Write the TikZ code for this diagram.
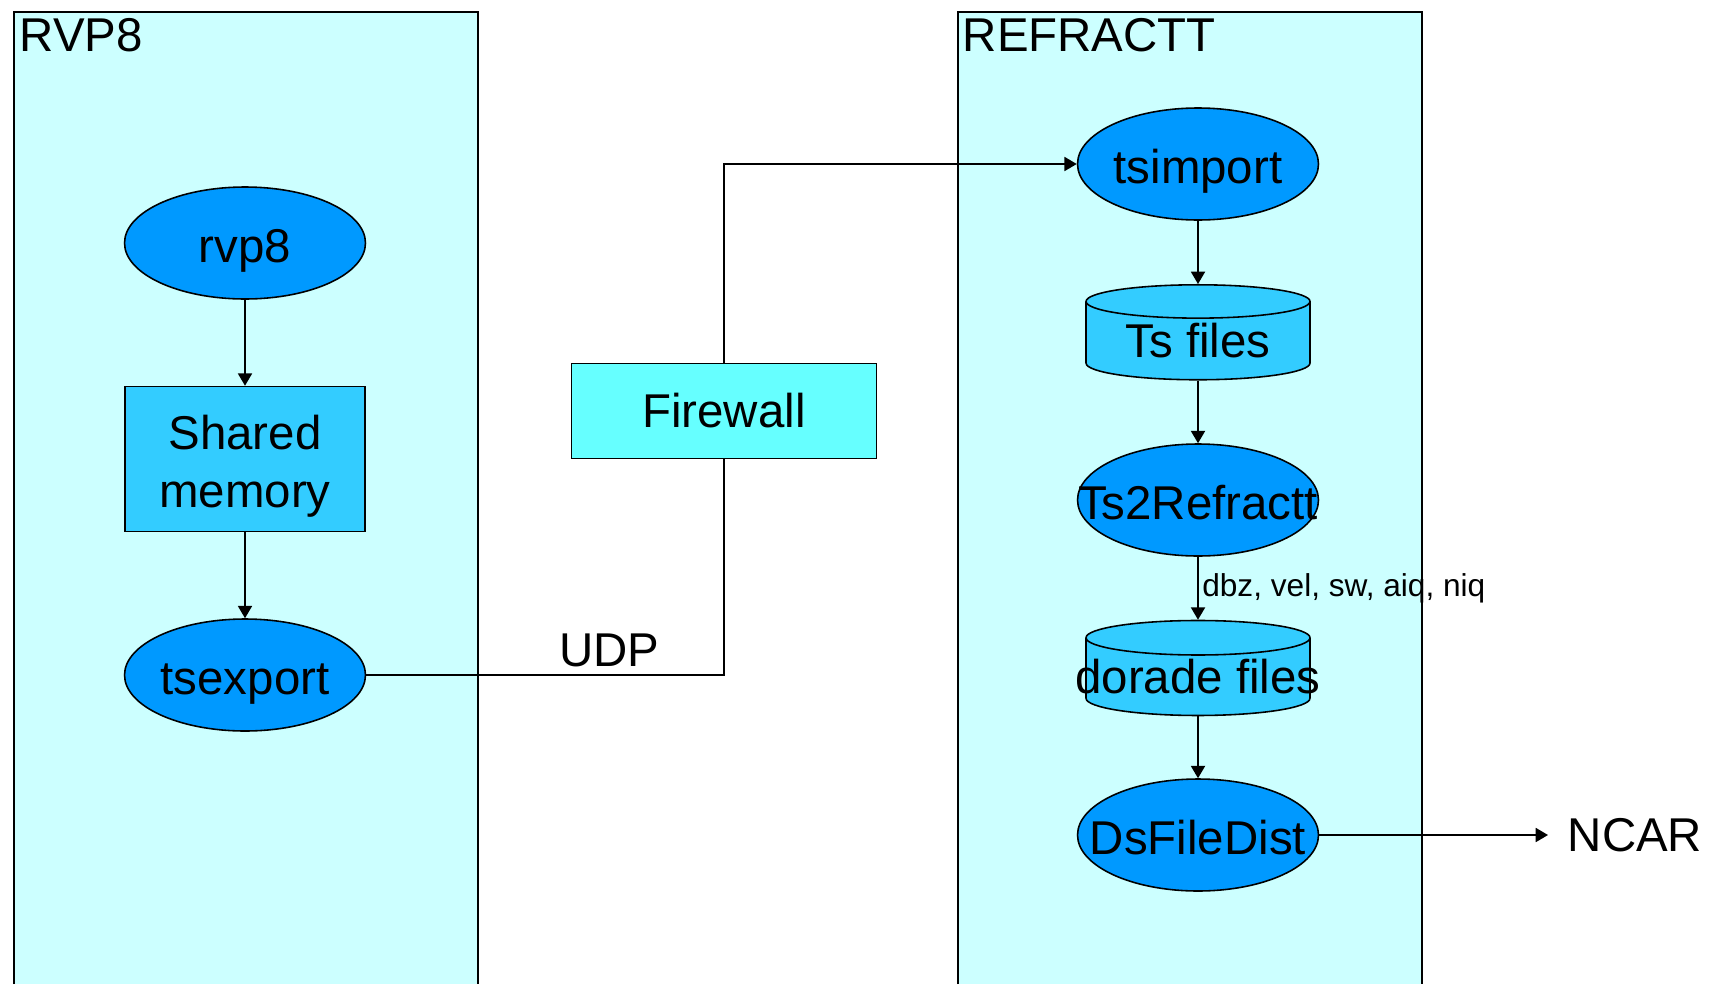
\documentclass[tikz,border=0pt]{standalone}
\usepackage{fontspec}
\setmainfont{Liberation Sans}
\usetikzlibrary{positioning}
\usetikzlibrary{shapes,arrows.meta}

\definecolor{pale}{HTML}{CCFFFF}
\definecolor{proc}{HTML}{0099FF}
\definecolor{store}{HTML}{33CCFF}
\definecolor{wall}{HTML}{66FFFF}

\newcommand{\wide}[1]{\makebox[0pt]{#1}}

\tikzset{
  big/.style={font=\fontsize{27}{33}\selectfont},
  prog/.style={big, ellipse, draw, fill=proc, inner sep=0pt,
    text height=27.8pt, text depth=5.7pt,
    minimum width=4.82cm, minimum height=2.24cm},
  disk/.style={big, cylinder, shape border rotate=90, aspect=0.23, draw,
    cylinder uses custom fill, cylinder body fill=store, cylinder end fill=store,
    inner sep=0pt, minimum width=4.48cm, minimum height=1.9cm},
  blockbox/.style={big, rectangle, draw, inner sep=0pt, align=center}
}

\begin{document}
\begin{tikzpicture}[x=0.02cm, y=-0.02cm, line width=0.9pt,
  >={Triangle[length=7pt,width=8pt]}]
  \useasboundingbox (0,0) rectangle (1716,984);

  % Hosts
  \fill[pale] (14,984) rectangle (478,12);
  \draw (14,984) -- (14,12) -- (478,12) -- (478,984);
  \fill[pale] (958,984) rectangle (1422,12);
  \draw (958,984) -- (958,12) -- (1422,12) -- (1422,984);
  \node[big, anchor=north west, inner sep=0pt] (rvp8host) at (19,18) {RVP8};
  \node[big, anchor=north west, inner sep=0pt] (refhost) at (962,18) {REFRACTT};

  % Nodes
  \node[prog] (rvp8) at (245,243) {rvp8};
  \node[blockbox, fill=store, minimum width=4.79cm, minimum height=2.9cm] (shm) at (245,459) {\rule{0pt}{28pt}Shared\\memory};
  \node[prog] (tsexport) at (245,675) {tsexport};
  \node[blockbox, fill=wall, minimum width=6.1cm, minimum height=1.9cm] (fw) at (724,411) {Firewall};
  \node[prog] (tsimport) at (1198,164) {tsimport};
  \node[disk] (tsfiles) at (1198,341) {Ts files};
  \node[prog] (ts2r) at (1198,500) {\wide{Ts2Refractt}};
  \node[disk] (dorade) at (1198,677) {\makebox[3cm]{dorade files}};
  \node[prog] (dsfd) at (1198,835) {\wide{DsFileDist}};
  \node[big, anchor=west, inner ysep=0pt, inner xsep=0.38cm] (ncar) at (1548,835) {NCAR};

  % Arrows
  \draw[->] (rvp8) -- (shm);
  \draw[->] (shm) -- (tsexport);
  \draw (tsexport) -| (fw.south) node [pos=0.34,above,big,inner sep=4pt] {UDP};
  \draw[->] (fw.north) |- (tsimport);
  \draw[->] (tsimport) -- (tsfiles);
  \draw[->] (tsfiles) -- (ts2r);
  \draw[->] (ts2r) -- (dorade) node [midway,right,inner sep=2pt,font=\fontsize{18}{22}\selectfont] {dbz, vel, sw, aiq, niq};
  \draw[->] (dorade) -- (dsfd);
  \draw[->] (dsfd) -- (ncar);
\end{tikzpicture}
\end{document}
